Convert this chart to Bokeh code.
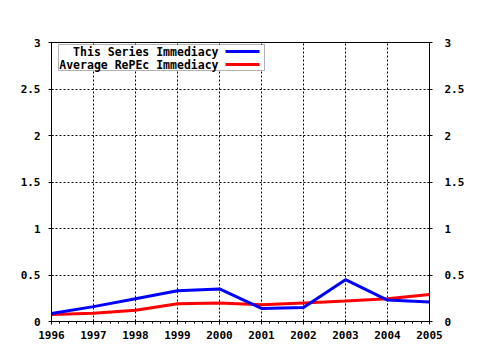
from bokeh.plotting import figure
from bokeh.models import (LinearAxis, FixedTicker, Range1d, Label, BoxAnnotation,
                          Arrow, ColumnDataSource)
from bokeh.embed import file_html
from bokeh.resources import INLINE

years = [1996, 1997, 1998, 1999, 2000, 2001, 2002, 2003, 2004, 2005]
series_immediacy = [0.085, 0.16, 0.245, 0.33, 0.35, 0.14, 0.15, 0.45, 0.23, 0.21]
repec_immediacy = [0.075, 0.09, 0.12, 0.19, 0.20, 0.18, 0.20, 0.22, 0.245, 0.29]
y_ticks = [0, 0.5, 1, 1.5, 2, 2.5, 3]
y_tick_labels = {0: "0", 0.5: "0.5", 1: "1", 1.5: "1.5", 2: "2", 2.5: "2.5", 3: "3"}
legend_labels = ["This Series Immediacy", "Average RePEc Immediacy"]
colors = ["#0000FF", "#FF0000"]

FONT = "DejaVu Sans Mono"

p = figure(width=480, height=350, output_backend="svg", toolbar_location=None,
           x_range=Range1d(1996, 2005), y_range=Range1d(0, 3),
           min_border_left=51, min_border_right=51, min_border_top=42, min_border_bottom=29,
           x_axis_location=None, y_axis_location=None)
p.background_fill_color = "white"
p.border_fill_color = "white"
p.outline_line_color = "black"
p.outline_line_width = 1

minor_x = [y + f / 5 for y in years[:-1] for f in range(1, 5)]
xt = FixedTicker(ticks=years, minor_ticks=minor_x)
yt = FixedTicker(ticks=y_ticks)

def style(ax):
    ax.axis_line_color = "black"
    ax.major_tick_line_color = "black"
    ax.minor_tick_line_color = "black"
    ax.major_tick_out = 3
    ax.major_tick_in = 2
    ax.minor_tick_out = 2
    ax.minor_tick_in = 0
    ax.major_label_text_font = FONT
    ax.major_label_text_font_style = "bold"
    ax.major_label_text_font_size = "11px"
    ax.major_label_text_color = "black"

xa = LinearAxis(ticker=xt)
style(xa)
xa.major_label_standoff = 6
p.add_layout(xa, "below")

ya = LinearAxis(ticker=yt, major_label_overrides=y_tick_labels)
style(ya)
ya.minor_tick_line_color = None
ya.major_label_standoff = 8
p.add_layout(ya, "left")

ya2 = LinearAxis(ticker=yt, major_label_overrides=y_tick_labels)
style(ya2)
ya2.minor_tick_line_color = None
ya2.major_label_standoff = 12
p.add_layout(ya2, "right")

p.xgrid.ticker = xt
p.ygrid.ticker = yt
for g in (p.xgrid, p.ygrid):
    g.grid_line_color = "black"
    g.grid_line_dash = "2 2"
    g.grid_line_width = 1

src = ColumnDataSource(dict(x=years, a=series_immediacy, b=repec_immediacy))
p.line("x", "b", source=src, line_color=colors[1], line_width=3)
p.line("x", "a", source=src, line_color=colors[0], line_width=3)

# legend box (screen units, relative to frame, y up from bottom)
FH = 279
box = BoxAnnotation(left=7, right=213, top=FH - 2, bottom=FH - 28,
                    left_units="screen", right_units="screen",
                    top_units="screen", bottom_units="screen",
                    fill_color="white", fill_alpha=1.0,
                    line_color="black", line_width=1, level="overlay")
p.add_layout(box)
rows = [FH - 9, FH - 22]
for lab, col, yy in zip(legend_labels, colors, rows):
    p.add_layout(Label(x=167, y=yy, x_units="screen", y_units="screen", text=lab,
                       text_align="right", text_baseline="middle",
                       text_font=FONT, text_font_style="bold", text_font_size="11.5px",
                       text_color="black", level="overlay"))
    p.add_layout(Arrow(x_start=174, x_end=208, y_start=yy, y_end=yy,
                       start_units="screen", end_units="screen", end=None,
                       line_color=col, line_width=3, level="overlay"))

open("out.html", "w").write(file_html(p, INLINE))
